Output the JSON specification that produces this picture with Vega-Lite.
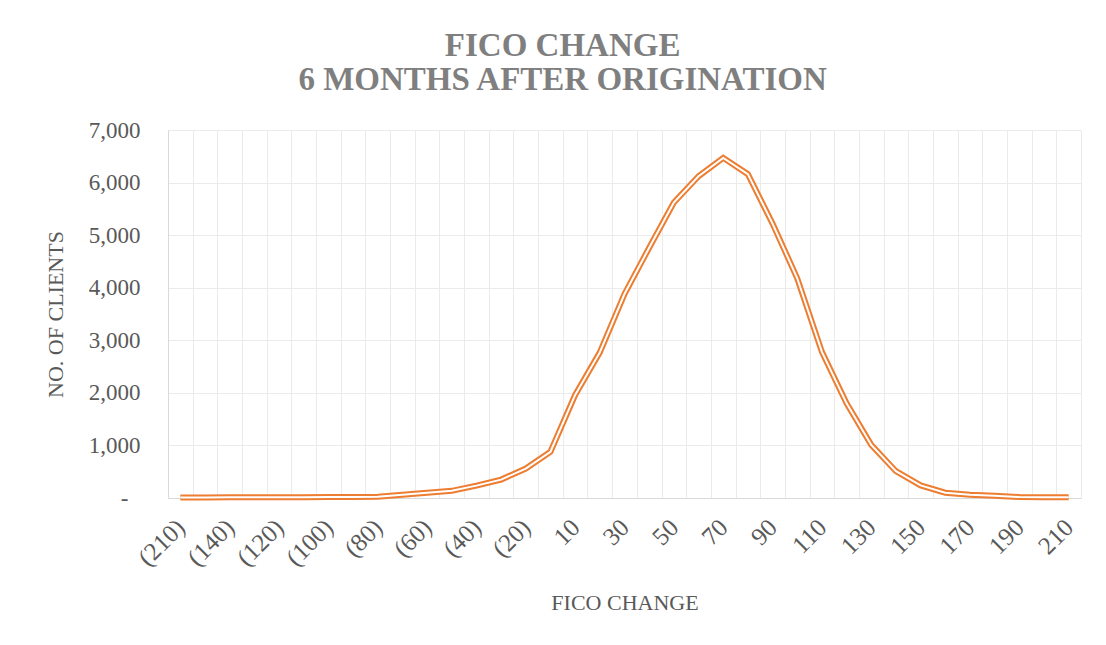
{
  "$schema": "https://vega.github.io/schema/vega-lite/v6.json",
  "width": 913,
  "height": 368,
  "autosize": {"type": "none"},
  "padding": {"left": 168, "top": 130, "right": 25, "bottom": 147},
  "background": "white",
  "title": {
    "text": ["FICO CHANGE", "6 MONTHS AFTER ORIGINATION"],
    "font": "Liberation Serif",
    "fontSize": 33,
    "fontWeight": "bold",
    "color": "#7f7f7f",
    "anchor": "middle",
    "frame": "bounds",
    "offset": 22,
    "lineHeight": 34
  },
  "data": {
    "values": [
      {"change": "(210)", "clients": 10},
      {"change": "(150)", "clients": 10},
      {"change": "(140)", "clients": 12},
      {"change": "(130)", "clients": 12},
      {"change": "(120)", "clients": 15},
      {"change": "(110)", "clients": 15},
      {"change": "(100)", "clients": 18},
      {"change": "(90)", "clients": 20},
      {"change": "(80)", "clients": 25},
      {"change": "(70)", "clients": 63},
      {"change": "(60)", "clients": 100},
      {"change": "(50)", "clients": 136},
      {"change": "(40)", "clients": 235},
      {"change": "(30)", "clients": 350},
      {"change": "(20)", "clients": 560},
      {"change": "0", "clients": 880},
      {"change": "10", "clients": 1960},
      {"change": "20", "clients": 2770},
      {"change": "30", "clients": 3880},
      {"change": "40", "clients": 4760},
      {"change": "50", "clients": 5620},
      {"change": "60", "clients": 6120},
      {"change": "70", "clients": 6470},
      {"change": "80", "clients": 6160},
      {"change": "90", "clients": 5220},
      {"change": "100", "clients": 4180},
      {"change": "110", "clients": 2780},
      {"change": "120", "clients": 1800},
      {"change": "130", "clients": 1010},
      {"change": "140", "clients": 510},
      {"change": "150", "clients": 240},
      {"change": "160", "clients": 100},
      {"change": "170", "clients": 63},
      {"change": "180", "clients": 44},
      {"change": "190", "clients": 20},
      {"change": "200", "clients": 14},
      {"change": "210", "clients": 14}
    ]
  },
  "encoding": {
    "x": {
      "field": "change",
      "type": "ordinal",
      "sort": null,
      "scale": {"paddingInner": 0, "paddingOuter": 0},
      "axis": {
        "title": "FICO CHANGE",
        "titleFont": "Liberation Serif",
        "titleFontSize": 22,
        "titleFontWeight": "normal",
        "titleColor": "#595959",
        "titlePadding": 22,
        "labelFont": "Liberation Serif",
        "labelFontSize": 25,
        "labelColor": "#595959",
        "labelAngle": -45,
        "labelAlign": "right",
        "labelBaseline": "middle",
        "labelPadding": 25,
        "labelOverlap": false,
        "labelExpr": "indexof(['(150)','(130)','(110)','(90)','(70)','(50)','(30)','0','20','40','60','80','100','120','140','160','180','200'], datum.value) < 0 ? datum.label : ''",
        "ticks": false,
        "tickBand": "extent",
        "grid": true,
        "gridColor": "#ebebeb",
        "gridWidth": 1,
        "domainColor": "#d9d9d9",
        "domainWidth": 1
      }
    },
    "y": {
      "field": "clients",
      "type": "quantitative",
      "scale": {"domain": [0, 7000], "nice": false},
      "axis": {
        "title": "NO. OF CLIENTS",
        "titleFont": "Liberation Serif",
        "titleFontSize": 22,
        "titleFontWeight": "normal",
        "titleColor": "#595959",
        "titlePadding": 21,
        "values": [0, 1000, 2000, 3000, 4000, 5000, 6000, 7000],
        "labelExpr": "datum.value == 0 ? '-' : format(datum.value, ',')",
        "labelFont": "Liberation Serif",
        "labelFontSize": 23,
        "labelColor": "#595959",
        "labelPadding": {"condition": {"test": "datum.value == 0", "value": 40}, "value": 28},
        "ticks": false,
        "grid": true,
        "gridColor": "#ebebeb",
        "gridWidth": 1,
        "domainColor": "#d9d9d9",
        "domainWidth": 1
      }
    }
  },
  "layer": [
    {"mark": {"type": "line", "color": "#ed7d31", "strokeWidth": 6}},
    {"mark": {"type": "line", "color": "#ffffff", "strokeWidth": 2}}
  ],
  "config": {"view": {"stroke": null}}
}
